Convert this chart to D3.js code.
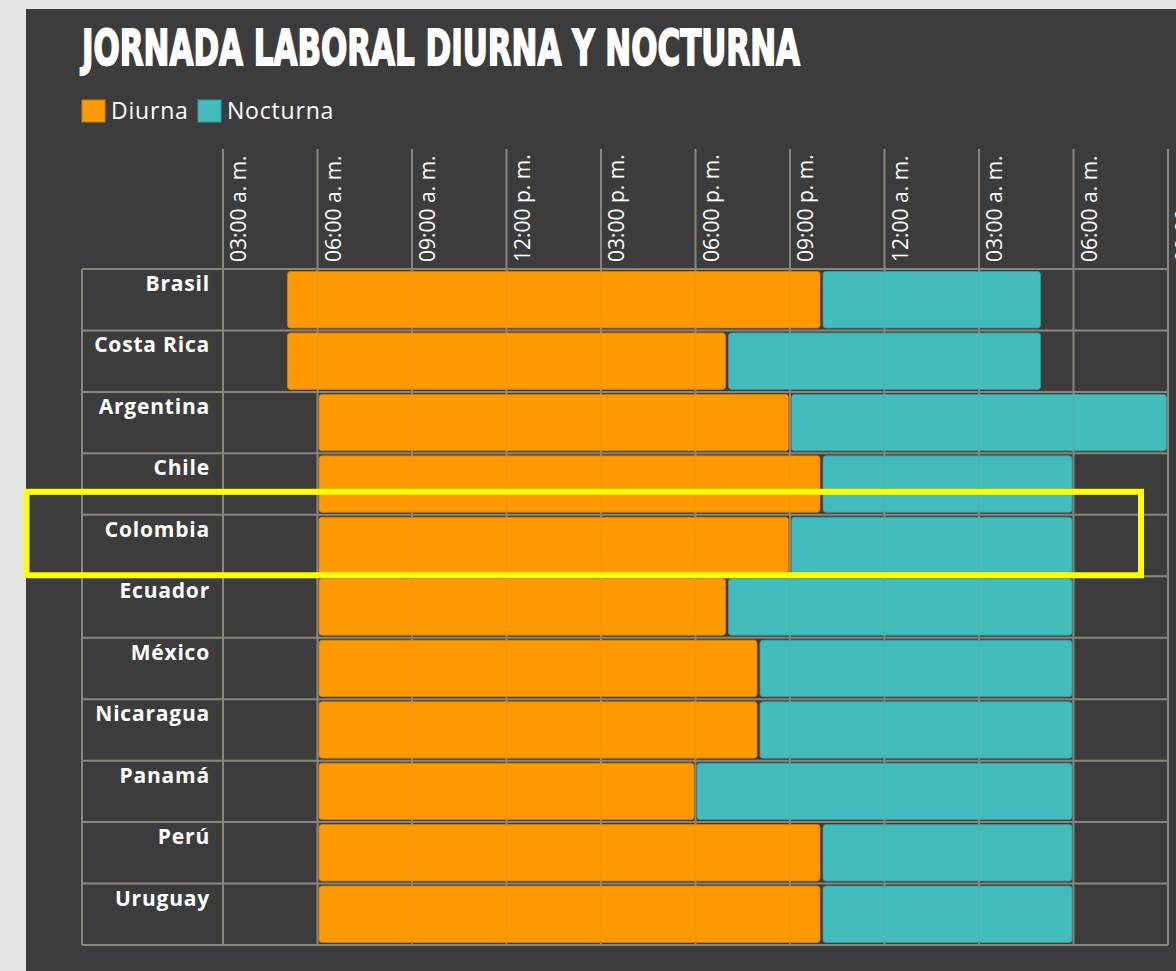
<!DOCTYPE html>
<html>
<head>
<meta charset="utf-8">
<script src="https://cdn.jsdelivr.net/npm/d3@7"></script>
<style>
  html, body { margin: 0; padding: 0; background: #e6e6e6; }
  svg { display: block; }
</style>
</head>
<body>
<div id="chart"></div>
<script>
// ── Data ────────────────────────────────────────────────────────
// hours counted from midnight of the first day (24 = 12:00 a. m. next day)
const COUNTRIES = ["Brasil", "Costa Rica", "Argentina", "Chile", "Colombia", "Ecuador",
                   "México", "Nicaragua", "Panamá", "Perú", "Uruguay"];
const DIURNA_START = [5, 5, 6, 6, 6, 6, 6, 6, 6, 6, 6];
const DIURNA_END   = [22, 19, 21, 22, 21, 19, 20, 20, 18, 22, 22];
const NOCTURNA_END = [29, 29, 33, 30, 30, 30, 30, 30, 30, 30, 30];

const TICK_HOURS  = [3, 6, 9, 12, 15, 18, 21, 24, 27, 30, 33];
const TICK_LABELS = ["03:00 a. m.", "06:00 a. m.", "09:00 a. m.", "12:00 p. m.", "03:00 p. m.",
                     "06:00 p. m.", "09:00 p. m.", "12:00 a. m.", "03:00 a. m.", "06:00 a. m.",
                     "09:00 a. m."];

const SERIES = ["Diurna", "Nocturna"];
const COLORS = ["#ff9900", "#42bcbc"];
const HIGHLIGHT = "Colombia";

// ── Layout ──────────────────────────────────────────────────────
const W = 1176, H = 971;
const tableLeft = 82, plotLeft = 223, plotRight = 1168;
const headerTop = 149, tableTop = 269, tableBottom = 945;
const GRID = "#8b867d";

const svg = d3.select("#chart").append("svg")
    .attr("width", W)
    .attr("height", H);

// dark panel
svg.append("rect")
    .attr("x", 26).attr("y", 9)
    .attr("width", W - 26).attr("height", H - 9)
    .attr("fill", "#3c3c3c");

// ── Scales ──────────────────────────────────────────────────────
const x = d3.scaleLinear().domain([3, 33]).range([plotLeft, plotRight]);
const y = d3.scaleBand().domain(COUNTRIES).range([tableTop, tableBottom]);

const rows = COUNTRIES.map((c, i) => ({
    country: c,
    segs: [
        { s: 0, a: DIURNA_START[i], b: DIURNA_END[i] },
        { s: 1, a: DIURNA_END[i], b: NOCTURNA_END[i] }
    ]
}));

// ── Title + legend ──────────────────────────────────────────────
svg.append("text")
    .attr("x", 82).attr("y", 65)
    .attr("textLength", 718)
    .attr("lengthAdjust", "spacingAndGlyphs")
    .style("font-family", "'Liberation Sans Narrow', 'DejaVu Sans Condensed', sans-serif")
    .style("font-weight", "bold")
    .style("font-size", "50px")
    .style("fill", "#ffffff")
    .style("stroke", "#ffffff")
    .style("stroke-width", "1.8px")
    .text("JORNADA LABORAL DIURNA Y NOCTURNA");

const legendX = [82, 198];
SERIES.forEach(function (name, i) {
    svg.append("rect")
        .attr("x", legendX[i]).attr("y", 100)
        .attr("width", 23).attr("height", 22)
        .attr("fill", COLORS[i])
        .attr("stroke", d3.color(COLORS[i]).darker(0.6))
        .attr("stroke-width", 1);
    svg.append("text")
        .attr("x", legendX[i] + 29).attr("y", 119)
        .style("font-family", "'Open Sans', sans-serif")
        .style("font-size", "23px")
        .style("letter-spacing", "0.8px")
        .style("fill", "#ffffff")
        .text(name);
});

// ── Grid ────────────────────────────────────────────────────────
function drawGrid(g, opacity) {
    g.selectAll("line.v")
        .data(TICK_HOURS)
        .join("line")
        .attr("class", "v")
        .attr("x1", d => x(d)).attr("x2", d => x(d))
        .attr("y1", headerTop).attr("y2", tableBottom)
        .attr("stroke", GRID).attr("stroke-width", 2)
        .attr("stroke-opacity", opacity);

    g.selectAll("line.h")
        .data(COUNTRIES.concat(["__end"]))
        .join("line")
        .attr("class", "h")
        .attr("x1", tableLeft).attr("x2", plotRight)
        .attr("y1", d => d === "__end" ? tableBottom : y(d))
        .attr("y2", d => d === "__end" ? tableBottom : y(d))
        .attr("stroke", GRID).attr("stroke-width", 2)
        .attr("stroke-opacity", opacity);

    g.append("line")
        .attr("x1", tableLeft).attr("x2", tableLeft)
        .attr("y1", tableTop).attr("y2", tableBottom)
        .attr("stroke", GRID).attr("stroke-width", 2)
        .attr("stroke-opacity", opacity);
}
drawGrid(svg.append("g").attr("class", "grid"), 1);

// tick labels, rotated
svg.append("g")
    .selectAll("text")
    .data(TICK_HOURS)
    .join("text")
    .attr("transform", d => `translate(${x(d) + 23}, 262) rotate(-90)`)
    .style("font-family", "'Open Sans', sans-serif")
    .style("font-size", "21px")
    .style("fill", "#ffffff")
    .text((d, i) => TICK_LABELS[i]);

// ── Bars ────────────────────────────────────────────────────────
const pad = 1.5;
const rowG = svg.append("g").attr("class", "bars")
    .selectAll("g")
    .data(rows)
    .join("g")
    .attr("transform", d => `translate(0, ${y(d.country)})`);

rowG.selectAll("rect")
    .data(d => d.segs)
    .join("rect")
    .attr("x", d => x(d.a) + pad)
    .attr("y", 2.5)
    .attr("width", d => x(d.b) - x(d.a) - 2 * pad)
    .attr("height", y.bandwidth() - 5)
    .attr("rx", 3)
    .attr("fill", d => COLORS[d.s])
    .attr("stroke", d => d3.color(COLORS[d.s]).darker(0.5))
    .attr("stroke-width", 0.8);

// faint grid showing through the bars
drawGrid(svg.append("g").attr("class", "grid-over"), 0.1);

// row labels
svg.append("g")
    .selectAll("text")
    .data(COUNTRIES)
    .join("text")
    .attr("x", 210)
    .attr("y", d => y(d) + 22)
    .attr("text-anchor", "end")
    .style("font-family", "'Open Sans', sans-serif")
    .style("font-weight", "bold")
    .style("font-size", "21px")
    .style("letter-spacing", "0.8px")
    .style("fill", "#ffffff")
    .text(d => d);

// highlight box around one row
svg.append("rect")
    .attr("x", 26.5)
    .attr("y", y(HIGHLIGHT) - 23)
    .attr("width", 1141 - 26.5)
    .attr("height", y.bandwidth() + 22)
    .attr("fill", "none")
    .attr("stroke", "#ffff00")
    .attr("stroke-width", 6);
</script>
</body>
</html>
